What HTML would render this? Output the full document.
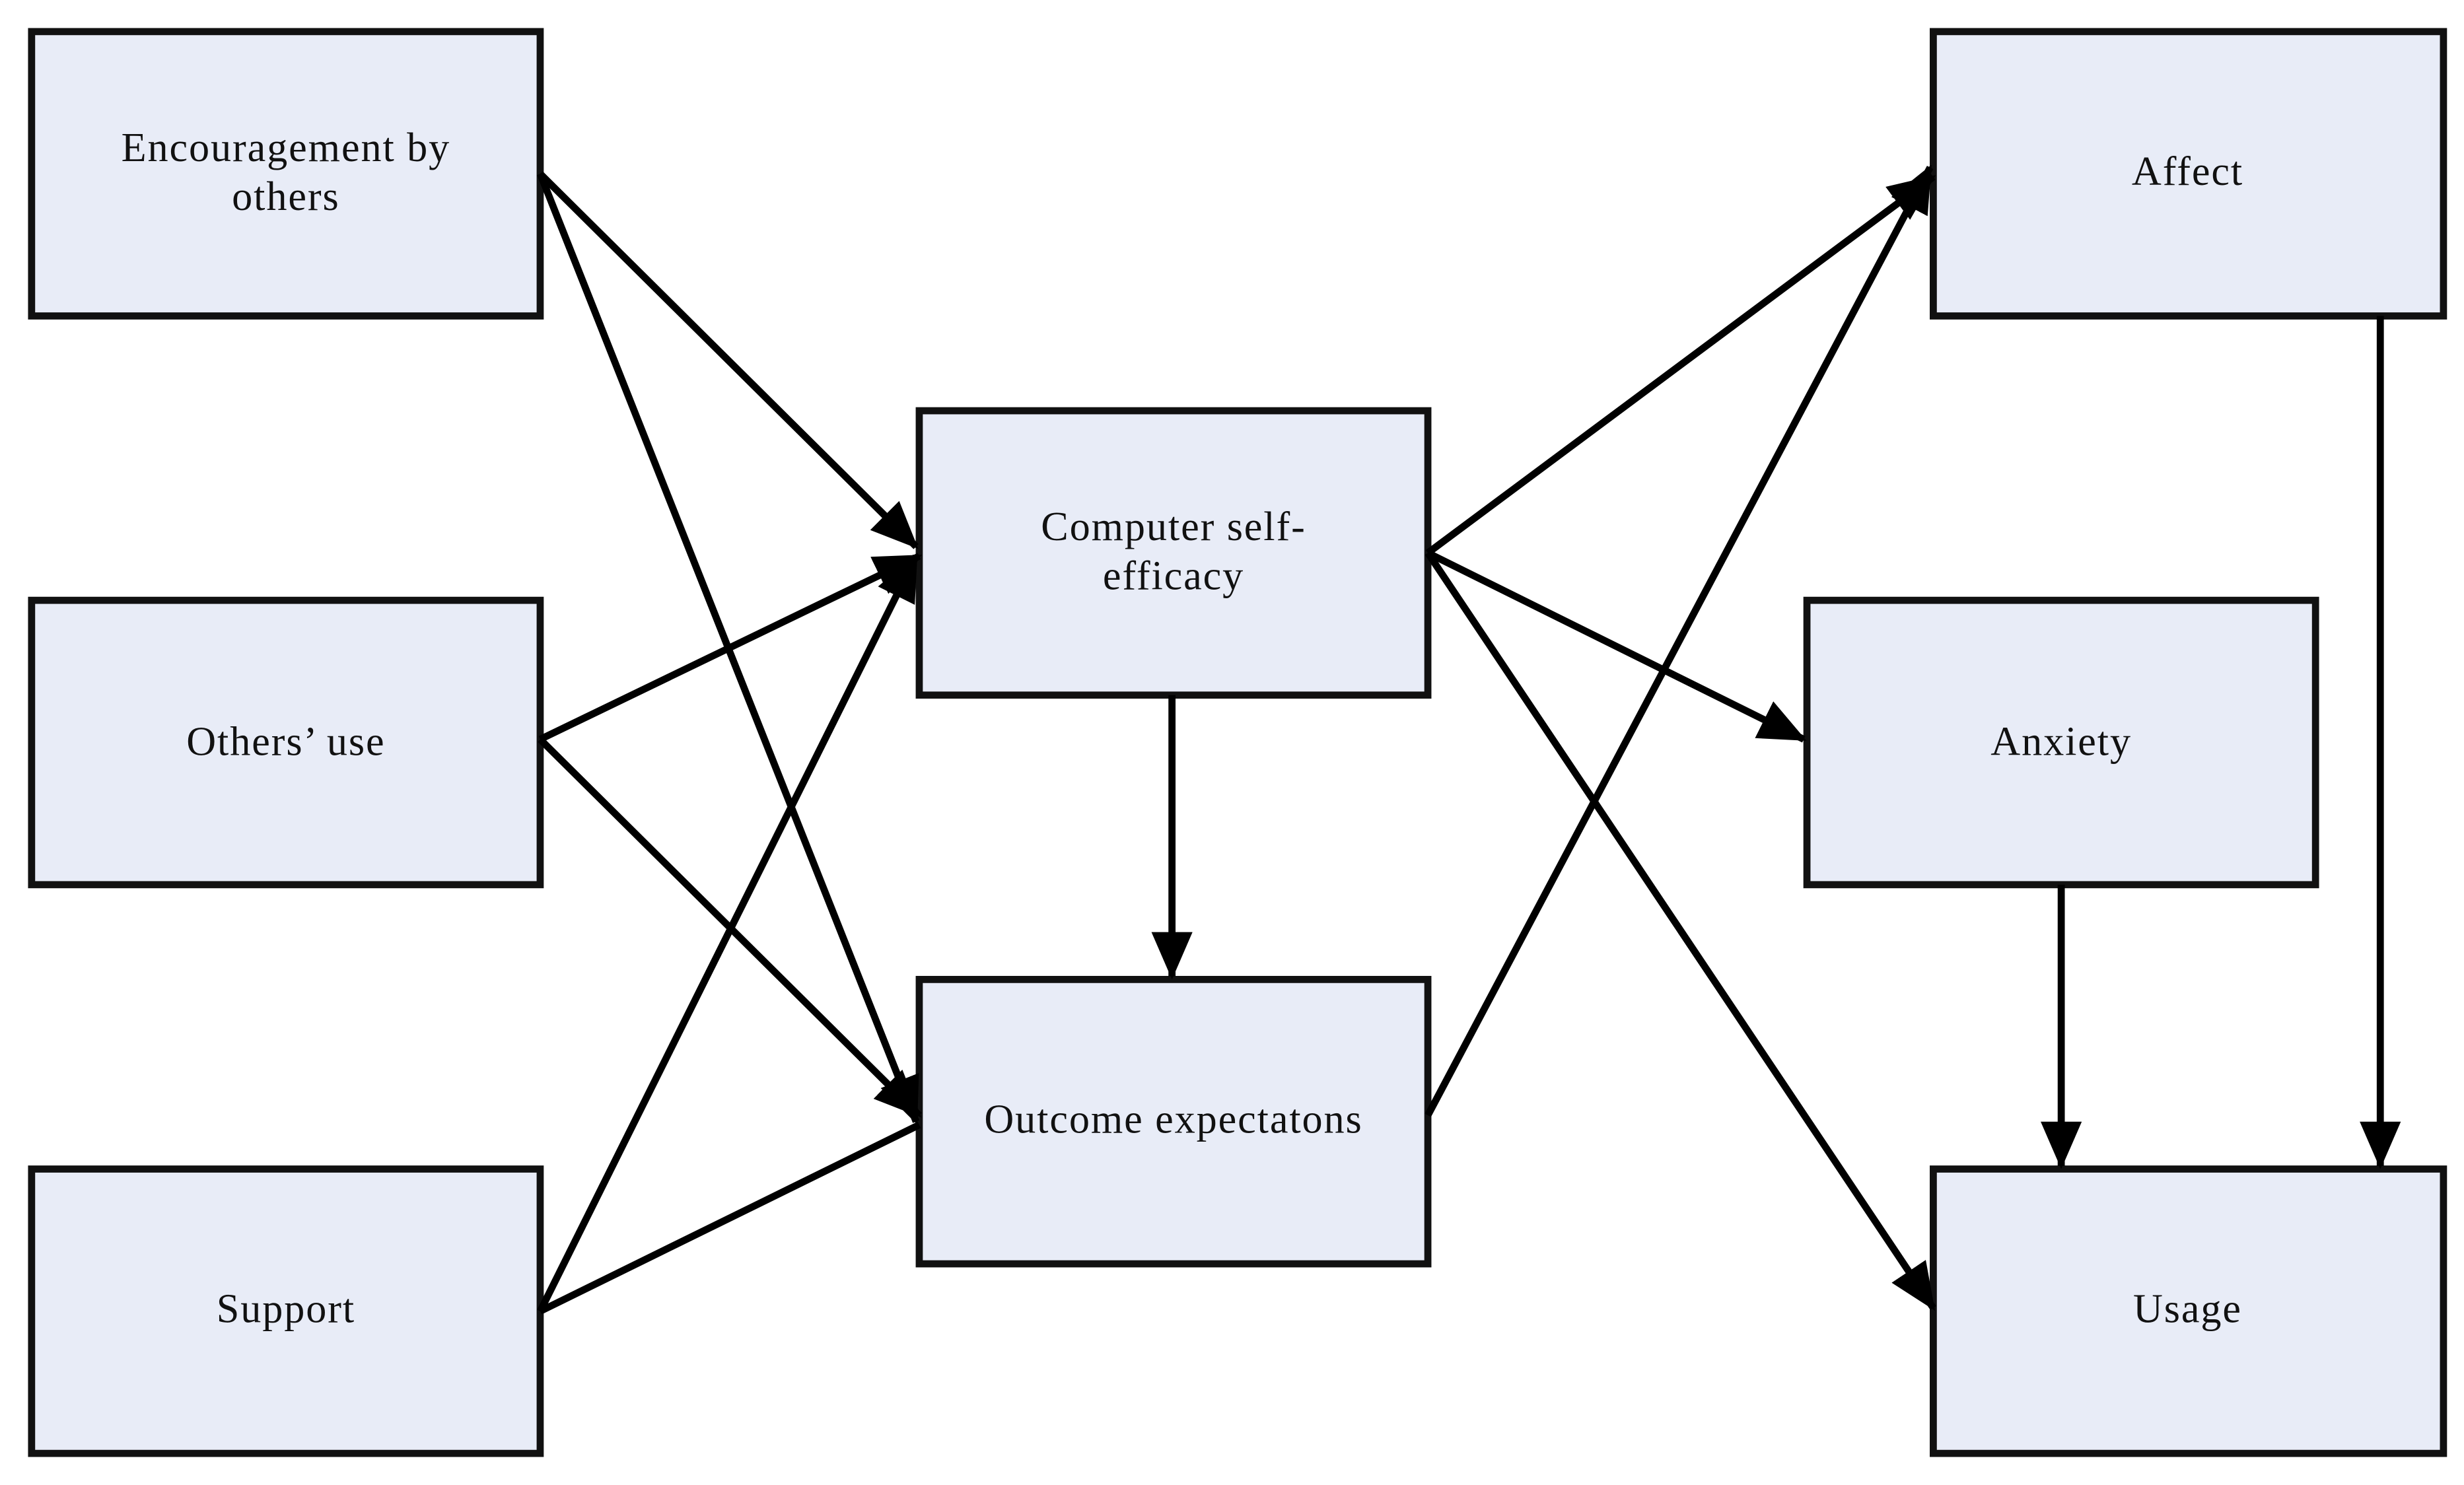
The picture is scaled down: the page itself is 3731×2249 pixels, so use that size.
<!DOCTYPE html>
<html><head><meta charset="utf-8"><style>
html,body{margin:0;padding:0;background:#fff;}
svg{display:block;}
text{font-family:"Liberation Serif",serif;font-size:26px;fill:#111;letter-spacing:0.8px;}
</style></head><body>
<svg width="3731" height="2249" viewBox="0 0 1560 940" preserveAspectRatio="none" xmlns="http://www.w3.org/2000/svg">
<defs>
<marker id="a" markerUnits="userSpaceOnUse" markerWidth="30" markerHeight="26" refX="28" refY="13" orient="auto">
<path d="M0,0 L30,13 L0,26 Z" fill="#000"/>
</marker>
</defs>
<g fill="#e8ecf7" stroke="#111" stroke-width="4.5">
<rect x="20" y="20" width="322" height="180"/>
<rect x="20" y="380" width="322" height="180"/>
<rect x="20" y="740" width="322" height="180"/>
<rect x="582" y="260" width="322" height="180"/>
<rect x="582" y="620" width="322" height="180"/>
<rect x="1224" y="20" width="323" height="180"/>
<rect x="1144" y="380" width="322" height="180"/>
<rect x="1224" y="740" width="323" height="180"/>
</g>
<g stroke="#000" stroke-width="4.5" fill="none">
<line x1="342" y1="110" x2="580" y2="346" marker-end="url(#a)"/>
<line x1="342" y1="110" x2="580" y2="710" marker-end="url(#a)"/>
<line x1="342" y1="468" x2="582" y2="352" marker-end="url(#a)"/>
<line x1="342" y1="468" x2="582" y2="706" marker-end="url(#a)"/>
<line x1="342" y1="830" x2="580" y2="352" marker-end="url(#a)"/>
<line x1="342" y1="830" x2="582" y2="712"/>
<line x1="904" y1="350" x2="1224" y2="112" marker-end="url(#a)"/>
<line x1="904" y1="350" x2="1142" y2="468" marker-end="url(#a)"/>
<line x1="904" y1="350" x2="1224" y2="828" marker-end="url(#a)"/>
<line x1="904" y1="706" x2="1222" y2="106" marker-end="url(#a)"/>
<line x1="742" y1="440" x2="742" y2="618" marker-end="url(#a)"/>
<line x1="1305" y1="560" x2="1305" y2="738" marker-end="url(#a)"/>
<line x1="1507" y1="200" x2="1507" y2="738" marker-end="url(#a)"/>
</g>
<g text-anchor="middle">
<text x="181" y="102">Encouragement by</text>
<text x="181" y="133">others</text>
<text x="181" y="478">Others’ use</text>
<text x="181" y="837">Support</text>
<text x="743" y="342">Computer self-</text>
<text x="743" y="373">efficacy</text>
<text x="743" y="717">Outcome expectatons</text>
<text x="1385" y="117">Affect</text>
<text x="1305" y="478">Anxiety</text>
<text x="1385" y="837">Usage</text>
</g>
</svg>
</body></html>
